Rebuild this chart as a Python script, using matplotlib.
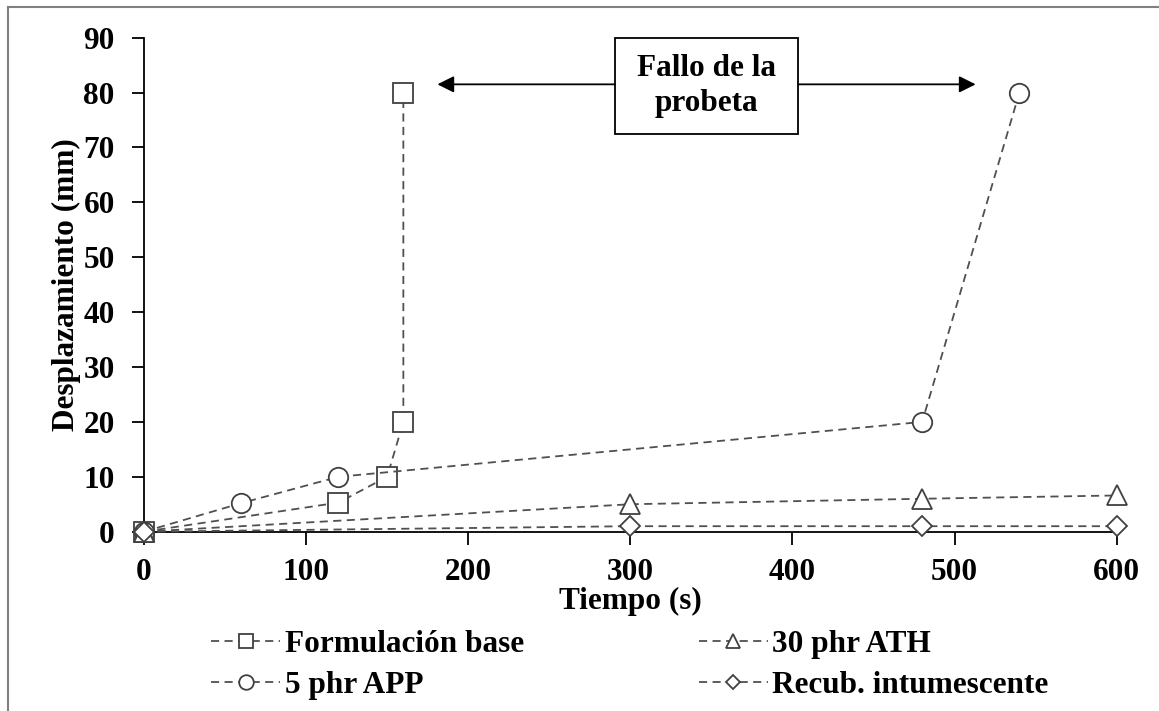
import numpy as np
import matplotlib
matplotlib.use('Agg')
from matplotlib import pyplot as plt
from matplotlib.lines import Line2D
from matplotlib.patches import Rectangle

plt.rcParams['font.family'] = ['Liberation Serif', 'DejaVu Serif']
plt.rcParams['font.weight'] = 'bold'
plt.rcParams['font.size'] = 22.5

# data
t_base = [0, 120, 150, 160, 160]
d_base = [0, 5.3, 10, 20, 80]
t_app = [0, 60, 120, 480, 540]
d_app = [0, 5.2, 10, 20, 80]
t_ath = [0, 300, 480, 600]
d_ath = [0, 5, 6, 6.6]
t_rec = [0, 300, 480, 600]
d_rec = [0, 1, 1, 1]

labels = ['Formulación base', '5 phr APP', '30 phr ATH', 'Recub. intumescente']

fig = plt.figure(figsize=(11.59, 7.11), dpi=100)
ax = fig.add_axes([0.1242, 0.2522, 0.8393, 0.6948])

lc = '#505050'
common = dict(color=lc, ls=(0, (4.5, 3)), lw=1.3, mfc='white', mec='#404040',
              mew=1.3, clip_on=False)
h1, = ax.plot(t_base, d_base, marker='s', ms=14, label=labels[0], zorder=3, **common)
h2, = ax.plot(t_app, d_app, marker='o', ms=14, label=labels[1], zorder=3, **common)
h3, = ax.plot(t_ath, d_ath, marker='^', ms=14, label=labels[2], zorder=3, **common)
h4, = ax.plot(t_rec, d_rec, marker='D', ms=10, label=labels[3], zorder=3, **common)

ax.set_xlim(0, 600)
ax.set_ylim(0, 90)
ax.set_xticks(np.arange(0, 601, 100))
ax.set_yticks(np.arange(0, 91, 10))
for s in ['top', 'right']:
    ax.spines[s].set_visible(False)
for s in ['left', 'bottom']:
    ax.spines[s].set_linewidth(1.3)
ax.tick_params(axis='x', direction='out', length=9, width=1.3, pad=10)
ax.tick_params(axis='y', direction='out', length=9, width=1.3, pad=12)

ax.set_xlabel('Tiempo (s)', fontweight='bold', labelpad=0)
ax.set_ylabel('Desplazamiento (mm)', fontweight='bold', labelpad=2)

# failure annotation
box_x0, box_x1 = 290.5, 403.5
box_y0, box_y1 = 72.4, 90
arrow_y = 81.5
ax.add_patch(Rectangle((box_x0, box_y0), box_x1 - box_x0, box_y1 - box_y0,
                       fill=False, ec='black', lw=1.3, clip_on=False, zorder=4))
ax.text((box_x0 + box_x1) / 2, (box_y0 + box_y1) / 2, 'Fallo de la\nprobeta',
        ha='center', va='center', fontweight='bold', linespacing=1.3, zorder=4)
ax.annotate('', xy=(181, arrow_y), xytext=(box_x0, arrow_y),
            arrowprops=dict(arrowstyle='-|>', color='black', lw=1.3, mutation_scale=25,
                            shrinkA=0, shrinkB=0), annotation_clip=False)
ax.annotate('', xy=(513, arrow_y), xytext=(box_x1, arrow_y),
            arrowprops=dict(arrowstyle='-|>', color='black', lw=1.3, mutation_scale=25,
                            shrinkA=0, shrinkB=0), annotation_clip=False)

fig.legend(handles=[h1, h2, h3, h4], labels=labels, ncol=2, loc='upper left',
           bbox_to_anchor=(0.169, 0.136), bbox_transform=fig.transFigure,
           frameon=False, handlelength=2.2, handletextpad=0.15, columnspacing=5.6,
           labelspacing=0.38, markerscale=0.75, borderpad=0)

# outer frame (only left and top edges visible)
fig.add_artist(Line2D([0.0069, 0.0069], [0, 0.990], color='#808080', lw=1.5,
                      transform=fig.transFigure))
fig.add_artist(Line2D([0.0069, 1], [0.990, 0.990], color='#808080', lw=1.5,
                      transform=fig.transFigure))

fig.savefig('out.png', dpi=100)
